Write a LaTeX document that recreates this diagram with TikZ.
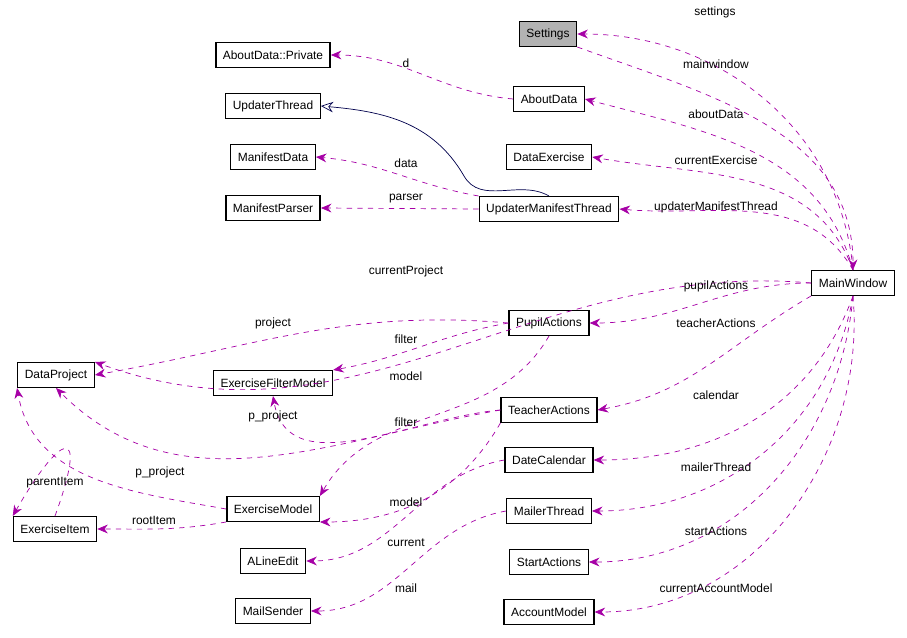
\documentclass[tikz,border=0pt]{standalone}
\usepackage{fontspec}
\setmainfont{Liberation Sans}
\usetikzlibrary{arrows.meta}
\tikzset{
	cls/.style = {draw, thick, minimum height=14pt, inner xsep=4pt, font=\fontsize{6.8}{8}\selectfont},
	mem/.style = {draw=violet!70!magenta, dashed, -{Stealth[length=6pt,width=5pt]}},
	inh/.style = {draw=blue!30!black, -{Stealth[length=7pt,width=6pt,open]}},
	lbl/.style = {font=\fontsize{6.8}{8}\selectfont}
}
\begin{document}
\begin{tikzpicture}[x=0.02cm, y=-0.02cm]
	\useasboundingbox (0,0) rectangle (907,638);
	\node[cls, fill=black!30] (set) at (548,34) {Settings};
	\node[cls] (adp) at (273,55) {AboutData::Private};
	\node[cls] (ad) at (549,99) {AboutData};
	\node[cls] (ut) at (273,106) {UpdaterThread};
	\node[cls] (de) at (549,157) {DataExercise};
	\node[cls] (md) at (273,157) {ManifestData};
	\node[cls] (mp) at (273,208) {ManifestParser};
	\node[cls] (umt) at (549,209) {UpdaterManifestThread};
	\node[cls] (mw) at (853,283) {MainWindow};
	\node[cls] (dp) at (56,375) {DataProject};
	\node[cls] (pa) at (549,323) {PupilActions};
	\node[cls] (efm) at (273,383) {ExerciseFilterModel};
	\node[cls] (ta) at (549,410) {TeacherActions};
	\node[cls] (dc) at (549,460) {DateCalendar};
	\node[cls] (em) at (273,509) {ExerciseModel};
	\node[cls] (ei) at (55,529) {ExerciseItem};
	\node[cls] (mt) at (549,511) {MailerThread};
	\node[cls] (ale) at (273,561) {ALineEdit};
	\node[cls] (sa) at (549,562) {StartActions};
	\node[cls] (ms) at (273,611) {MailSender};
	\node[cls] (am) at (549,612) {AccountModel};
	% MainWindow members
	\draw[mem] (mw.north) to[out=95, in=0] (set.east);
	\draw[mem] (set.south east) to[out=-20, in=90] (mw.north);
	\draw[mem] (mw.north) to[out=105, in=-15] (ad.east);
	\draw[mem] (mw.north) to[out=110, in=-10] (de.east);
	\draw[mem] (mw.north) to[out=120, in=-5] (umt.east);
	\draw[mem] (mw.west) to[out=175, in=-20] (dp.north east);
	\draw[mem] (mw.west) to[out=180, in=0] (pa.east);
	\draw[mem] (mw.south west) to[out=-150, in=10] (ta.east);
	\draw[mem] (mw.south) to[out=-110, in=0] (dc.east);
	\draw[mem] (mw.south) to[out=-100, in=0] (mt.east);
	\draw[mem] (mw.south) to[out=-95, in=0] (sa.east);
	\draw[mem] (mw.south) to[out=-85, in=0] (am.east);
	% other members
	\draw[mem] (ad.west) to[out=175, in=0] (adp.east);
	\draw[inh] (umt.north) to[out=150, in=-60] ++(-85,-20) to[out=120, in=-5] (ut.east);
	\draw[mem] (umt.north west) to[out=170, in=-5] (md.east);
	\draw[mem] (umt.west) -- (mp.east);
	\draw[mem] (pa.west) to[out=175, in=10] (dp.east);
	\draw[mem] (pa.west) to[out=190, in=10] (efm.north east);
	\draw[mem] (pa.south) to[out=-120, in=60] (em.north east);
	\draw[mem] (ta.west) to[out=185, in=-80] (efm.south);
	\draw[mem] (ta.west) to[out=190, in=-45] (dp.south);
	\draw[mem] (ta.south west) to[out=-120, in=0] (em.south east);
	\draw[mem] (em.west) to[out=170, in=-80] (dp.south west);
	\draw[mem] (em.south west) to[out=190, in=0] (ei.east);
	\draw[mem] (ei.north) to[out=70, in=60, looseness=6] (ei.north west);
	\draw[mem] (dc.west) to[out=190, in=0] (ale.east);
	\draw[mem] (mt.west) to[out=190, in=0] (ms.east);
	% labels
	\node[lbl] (l1) at (715,12) {settings};
	\node[lbl] (l2) at (716,64) {mainwindow};
	\node[lbl] (l3) at (716,114) {aboutData};
	\node[lbl] (l4) at (716,160) {currentExercise};
	\node[lbl] (l5) at (716,207) {updaterManifestThread};
	\node[lbl] (l6) at (406,271) {currentProject};
	\node[lbl] (l7) at (716,286) {pupilActions};
	\node[lbl] (l8) at (716,323) {teacherActions};
	\node[lbl] (l9) at (716,395) {calendar};
	\node[lbl] (l10) at (716,467) {mailerThread};
	\node[lbl] (l11) at (716,531) {startActions};
	\node[lbl] (l12) at (716,588) {currentAccountModel};
	\node[lbl] (l13) at (406,63) {d};
	\node[lbl] (l14) at (406,163) {data};
	\node[lbl] (l15) at (406,199) {parser};
	\node[lbl] (l16) at (273,323) {project};
	\node[lbl] (l17) at (406,339) {filter};
	\node[lbl] (l18) at (406,376) {model};
	\node[lbl] (l19) at (406,422) {filter};
	\node[lbl] (l20) at (273,416) {p\_project};
	\node[lbl] (l21) at (406,502) {model};
	\node[lbl] (l22) at (406,543) {current};
	\node[lbl] (l23) at (406,588) {mail};
	\node[lbl] (l24) at (160,472) {p\_project};
	\node[lbl] (l25) at (154,520) {rootItem};
	\node[lbl] (l26) at (55,483) {parentItem};
\end{tikzpicture}
\end{document}
